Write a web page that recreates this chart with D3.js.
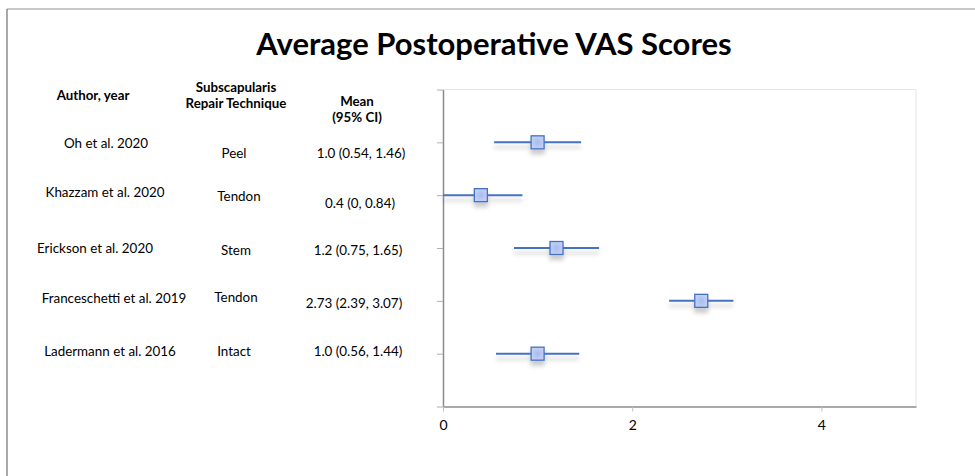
<!DOCTYPE html>
<html>
<head>
<meta charset="utf-8">
<script src="https://cdn.jsdelivr.net/npm/d3@7"></script>
<style>
  body { margin: 0; background: #fff; }
  svg { display: block; font-family: Lato, "Open Sans", sans-serif; }
</style>
</head>
<body>
<svg id="canvas" width="975" height="476"></svg>
<script>
// ---- data ----
let authors = ['Oh et al. 2020', 'Khazzam et al. 2020', 'Erickson et al. 2020', 'Franceschetti et al. 2019', 'Ladermann et al. 2016'];
let techniques = ['Peel', 'Tendon', 'Stem', 'Tendon', 'Intact'];
let means = [1.0, 0.4, 1.2, 2.73, 1.0];
let lower = [0.54, 0, 0.75, 2.39, 0.56];
let upper = [1.46, 0.84, 1.65, 3.07, 1.44];
let ciLabels = ['1.0 (0.54, 1.46)', '0.4 (0, 0.84)', '1.2 (0.75, 1.65)', '2.73 (2.39, 3.07)', '1.0 (0.56, 1.44)'];
let xTicks = [0, 2, 4];

// ---- layout (text in the source sits a little off the row lines) ----
let authorNudge = [[106, 1], [105, -3], [95, 0], [114, -3], [110, -2]];
let techNudge = [[234, 11], [239, 1], [236, 2], [236, -4], [234, -2]];
let ciNudge = [[361, 11], [360, 8], [358, 2], [354, 2], [358, -2]];

let svg = d3.select('#canvas');
let blue = '#4472c4';

let defs = svg.append('defs');
let shadow = defs.append('filter').attr('id', 'shadow')
  .attr('x', '-20%').attr('y', '-100%').attr('width', '140%').attr('height', '400%');
shadow.append('feDropShadow')
  .attr('dx', 0).attr('dy', 5).attr('stdDeviation', 2.2)
  .attr('flood-color', '#000').attr('flood-opacity', 0.2);
let grad = defs.append('radialGradient').attr('id', 'boxfill');
grad.append('stop').attr('offset', '0%').attr('stop-color', '#a9bbf0');
grad.append('stop').attr('offset', '100%').attr('stop-color', '#c3cff3');

// outer frame
svg.append('line').attr('x1', 7).attr('y1', 9).attr('x2', 975).attr('y2', 9)
  .attr('stroke', '#b4b4b4').attr('stroke-width', 1.5);
svg.append('line').attr('x1', 7).attr('y1', 9).attr('x2', 7).attr('y2', 476)
  .attr('stroke', '#8c8c8c').attr('stroke-width', 1.5);

// title
svg.append('text').attr('x', 494).attr('y', 55)
  .attr('text-anchor', 'middle')
  .attr('font-size', 31).attr('font-weight', 'bold')
  .text('Average Postoperative VAS Scores');

// scales
let x = d3.scaleLinear().domain([0, 5]).range([443, 916]);
let y = d3.scaleLinear().domain([0, 6]).range([89.5, 406.5]);

// plot frame (top + right)
svg.append('path')
  .attr('d', `M${x(0)},${y(0)}H${x(5)}V${y(6)}`)
  .attr('fill', 'none').attr('stroke', '#e4e4ec').attr('stroke-width', 1);

// axes
let yAxis = svg.append('g').attr('transform', `translate(${x(0)},0)`)
  .call(d3.axisLeft(y).tickValues(d3.range(0, 7)).tickSize(6).tickSizeOuter(0).tickFormat(''));
yAxis.select('.domain').attr('stroke', '#8c8c8c').attr('stroke-width', 1.5);
yAxis.selectAll('.tick line').attr('stroke', '#b0b0b0');

let xAxis = svg.append('g').attr('transform', `translate(0,${y(6)})`)
  .call(d3.axisBottom(x).tickValues(xTicks).tickSize(5).tickSizeOuter(0).tickPadding(9).tickFormat(d3.format('d')));
xAxis.select('.domain').attr('stroke', '#8c8c8c').attr('stroke-width', 1.5);
xAxis.selectAll('.tick line').attr('stroke', '#c0c0c0');
xAxis.selectAll('.tick text').attr('font-size', 14).attr('fill', '#000')
  .attr('font-family', 'Lato, "Open Sans", sans-serif');

// column headers
let header = (lines, cx, cy) => {
  let t = svg.append('text').attr('text-anchor', 'middle')
    .attr('font-size', 13.3).attr('font-weight', 'bold');
  lines.forEach((s, i) => {
    t.append('tspan').attr('x', cx).attr('y', cy + i * 16.5).attr('dy', '0.35em').text(s);
  });
};
header(['Author, year'], 93, 95);
header(['Subscapularis', 'Repair Technique'], 236, 87);
header(['Mean', '(95% CI)'], 357, 101);

// row labels
let rows = d3.range(authors.length);
let rowY = (i) => y(i + 1);

let addColumn = (labels, nudge) => {
  svg.append('g').selectAll('text')
    .data(rows)
    .enter()
    .append('text')
    .attr('x', (i) => nudge[i][0])
    .attr('y', (i) => rowY(i) + nudge[i][1])
    .attr('dy', '0.35em')
    .attr('text-anchor', 'middle')
    .attr('font-size', 13.4)
    .text((i) => labels[i]);
};
addColumn(authors, authorNudge);
addColumn(techniques, techNudge);
addColumn(ciLabels, ciNudge);

// CI lines and mean markers
let marks = svg.append('g').selectAll('g')
  .data(rows)
  .enter()
  .append('g')
  .attr('filter', 'url(#shadow)');

marks.append('line')
  .attr('x1', (i) => x(lower[i]))
  .attr('x2', (i) => x(upper[i]))
  .attr('y1', (i) => rowY(i))
  .attr('y2', (i) => rowY(i))
  .attr('stroke', blue)
  .attr('stroke-width', 2);

let box = 13;
marks.append('rect')
  .attr('x', (i) => x(means[i]) - box / 2)
  .attr('y', (i) => rowY(i) - box / 2)
  .attr('width', box)
  .attr('height', box)
  .attr('fill', 'url(#boxfill)')
  .attr('stroke', blue)
  .attr('stroke-width', 1.3);
</script>
</body>
</html>
